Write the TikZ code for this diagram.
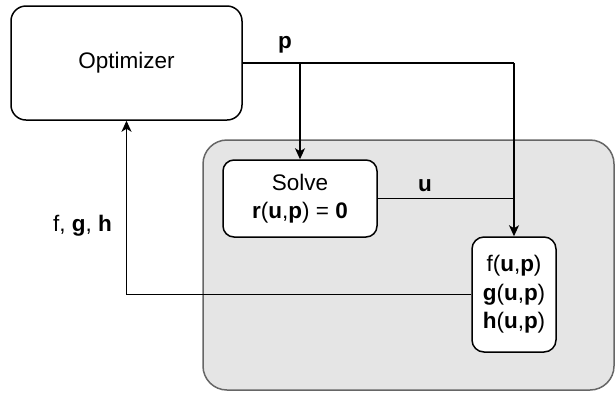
\documentclass[tikz,border=0pt]{standalone}
\usepackage{fontspec}
\setmainfont{Liberation Sans}
\usetikzlibrary{arrows.meta}
\begin{document}
\begin{tikzpicture}[x=1pt,y=-1pt,
  box/.style={draw=black,line width=1.5pt,fill=white,align=center,inner sep=0pt,
    font=\fontsize{22.5}{28.5}\selectfont},
  conn/.style={line width=1.5pt,draw=black},
  arr/.style={conn,-{Stealth[length=11pt,width=10pt,inset=3pt]}},
  lbl/.style={font=\fontsize{22.5}{28.5}\selectfont,inner sep=0pt}]
\useasboundingbox (0,0) rectangle (616,392);
\node[draw=black!60,line width=1.5pt,fill=black!10,rounded corners=24pt,
  minimum width=411pt,minimum height=250pt,inner sep=0pt] (sys) at (408.5,265) {};
\node[box,rounded corners=15pt,minimum width=231pt,minimum height=114pt] (opt) at (126.5,63) {Optimizer};
\node[box,rounded corners=11pt,minimum width=154pt,minimum height=77pt] (solve) at (300,198.5)
  {Solve\\\textbf{r}(\textbf{u},\textbf{p}) = \textbf{0}};
\node[box,rounded corners=12pt,minimum width=84pt,minimum height=115pt] (fgh) at (514,294.5)
  {f(\textbf{u},\textbf{p})\\\textbf{g}(\textbf{u},\textbf{p})\\\textbf{h}(\textbf{u},\textbf{p})};
\coordinate (pj) at (solve.north |- opt.east);
\coordinate (pc) at (fgh.north |- opt.east);
\coordinate (uc) at (fgh.north |- solve.east);
\coordinate (fc) at (opt.south |- fgh.west);
\draw[conn] (opt.east) -- (pc);
\draw[arr] (pc) -- (fgh.north);
\draw[arr] (pj) -- (solve.north);
\draw[conn] (solve.east) -- (uc);
\draw[arr] (fgh.west) -- (fc) -- (opt.south);
\node[lbl,font=\fontsize{22.5}{28.5}\selectfont\bfseries] (plbl) at (285,45) {p};
\node[lbl,font=\fontsize{22.5}{28.5}\selectfont\bfseries] (ulbl) at (425,186) {u};
\node[lbl,anchor=east] (fglbl) at (112,226) {f, \textbf{g}, \textbf{h}};
\end{tikzpicture}
\end{document}
